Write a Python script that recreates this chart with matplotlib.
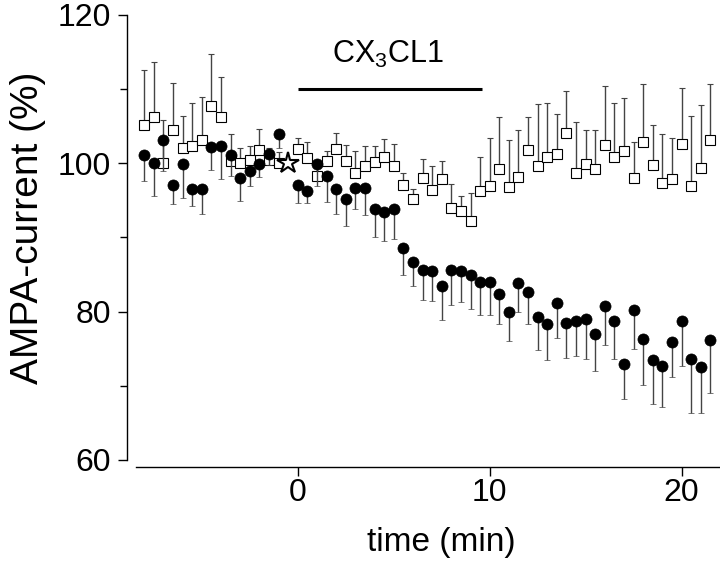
import numpy as np
import matplotlib
matplotlib.use('Agg')
import matplotlib.pyplot as plt

plt.rcParams['font.family'] = ['Liberation Sans', 'DejaVu Sans']
plt.rcParams['mathtext.fontset'] = 'custom'
plt.rcParams['mathtext.rm'] = 'Liberation Sans'
plt.rcParams['mathtext.default'] = 'regular'

# sampling times (min), one sweep every 30 s
time_min = np.arange(60) * 0.5 - 8.0
nan = np.nan

# filled circles (CX3CL1), mean and SEM (lower bars only)
cx3_mean = [101.1, 100.1, 103.2, 97.1, 99.9, 96.5, 96.5, 102.2, 102.3, 101.1,
            98.0, 98.9, 99.9, 101.3, 104.0, nan, 97.1, 96.2, 99.9, 98.3,
            96.5, 95.2, 96.7, 96.7, 93.8, 93.5, 93.8, 88.6, 86.7, 85.6,
            85.5, 83.4, 85.6, 85.5, 85.0, 84.0, 84.0, 82.4, 80.0, 83.8,
            82.6, 79.3, 78.3, 81.1, 78.5, 78.7, 79.0, 77.0, 80.8, 78.7,
            72.9, 80.2, 76.3, 73.5, 72.7, 75.9, 78.8, 73.6, 72.6, 76.2]
cx3_sem = [3.5, 4.5, 4.3, 2.6, 4.6, 2.3, 3.3, 3.1, 4.4, 2.8,
           3.1, 1.9, 1.8, 1.5, 2.0, nan, 2.5, 1.6, 2.9, 3.5,
           3.3, 3.7, 2.8, 3.7, 3.8, 4.0, 4.0, 3.7, 3.3, 4.0,
           4.0, 4.5, 4.7, 4.2, 4.6, 4.5, 4.5, 4.0, 4.0, 3.8,
           4.3, 4.5, 4.8, 4.6, 4.8, 4.7, 5.4, 5.0, 5.3, 5.1,
           4.7, 5.2, 6.2, 5.9, 5.5, 4.7, 6.1, 7.2, 6.2, 7.2]

# open squares (control), mean and SEM (upper bars only)
ctrl_mean = [105.2, 106.2, 100.1, 104.5, 102.0, 102.3, 103.2, 107.7, 106.2, 100.3,
             100.1, 100.5, 101.8, 100.5, 100.0, nan, 101.9, 100.7, 98.3, 100.3,
             101.9, 100.3, 98.7, 99.7, 100.2, 100.9, 99.6, 97.1, 95.2, 98.0,
             96.4, 97.9, 94.0, 93.6, 92.2, 96.2, 96.9, 99.2, 96.8, 98.1,
             101.8, 99.6, 100.9, 101.2, 104.1, 98.7, 99.9, 99.3, 102.5, 100.9,
             101.6, 98.0, 102.9, 99.8, 97.4, 97.9, 102.6, 96.9, 99.4, 103.2]
ctrl_sem = [7.4, 7.4, 5.8, 6.3, 4.4, 5.8, 5.7, 7.1, 5.5, 3.6,
            2.0, 1.8, 2.8, 1.5, 1.5, nan, 1.5, 2.2, 2.0, 1.4,
            2.2, 2.2, 2.9, 2.6, 2.1, 2.4, 3.0, 1.6, 1.4, 2.6,
            3.2, 2.4, 3.2, 2.0, 3.8, 4.6, 6.5, 7.1, 6.3, 6.4,
            4.5, 8.4, 7.3, 5.4, 5.7, 6.9, 4.6, 5.2, 7.9, 7.2,
            7.2, 4.9, 7.8, 5.3, 6.6, 5.5, 7.6, 9.5, 8.4, 7.5]

# normalisation point (star)
star_t = -0.5
star_v = 100.0

# application of the chemokine
drug_label = 'CX$_3$CL1'
drug_start = 0.0
drug_end = 9.6

cx3_mean = np.array(cx3_mean)
cx3_sem = np.array(cx3_sem)
ctrl_mean = np.array(ctrl_mean)
ctrl_sem = np.array(ctrl_sem)
zeros = np.zeros(len(time_min))

fig = plt.figure(figsize=(7.2, 5.64), dpi=100)
ax = fig.add_axes([0.1764, 0.1713, 0.8236, 0.8087])

ax.errorbar(time_min, ctrl_mean, yerr=[zeros, ctrl_sem], fmt='s', ms=7.2,
            mfc='white', mec='black', mew=0.8, ecolor='#444444',
            elinewidth=1.0, capsize=2.5, capthick=1.0, zorder=3)
ax.errorbar(time_min, cx3_mean, yerr=[cx3_sem, zeros], fmt='o', ms=8.0,
            mfc='black', mec='black', mew=0.5, ecolor='#444444',
            elinewidth=1.0, capsize=2.5, capthick=1.0, zorder=4)
ax.plot(star_t, star_v, marker='*', ms=16, mfc='white', mec='black',
        mew=1.5, linestyle='none', zorder=5)

ax.plot([drug_start, drug_end], [110, 110], color='black', lw=2.2,
        solid_capstyle='butt')
ax.text((drug_start + drug_end) / 2 - 0.1, 113.5, drug_label, fontsize=22,
        ha='center', va='baseline')

ax.set_xlim(-8.9, 22.0)
ax.set_ylim(59.0, 120.5)
ax.spines['top'].set_visible(False)
ax.spines['right'].set_visible(False)
ax.spines['left'].set_bounds(60, 120)
ax.spines['bottom'].set_bounds(-8.44, 22.0)
for sp in ('left', 'bottom'):
    ax.spines[sp].set_linewidth(1.0)

ax.set_xticks([0, 10, 20])
ax.set_yticks([60, 80, 100, 120])
ax.set_yticks([70, 90, 110], minor=True)
ax.tick_params(which='major', direction='out', length=6.5, width=1.0,
               labelsize=23)
ax.tick_params(axis='x', which='major', pad=1)
ax.tick_params(axis='y', which='major', pad=5)
ax.tick_params(which='minor', direction='out', length=5, width=1.0)

ax.set_xlabel('time (min)', fontsize=24)
ax.set_ylabel('AMPA-current (%)', fontsize=28)
ax.xaxis.set_label_coords(0.53, -0.13)
ax.yaxis.set_label_coords(-0.137, 0.525)

fig.savefig('out.png', dpi=100)
